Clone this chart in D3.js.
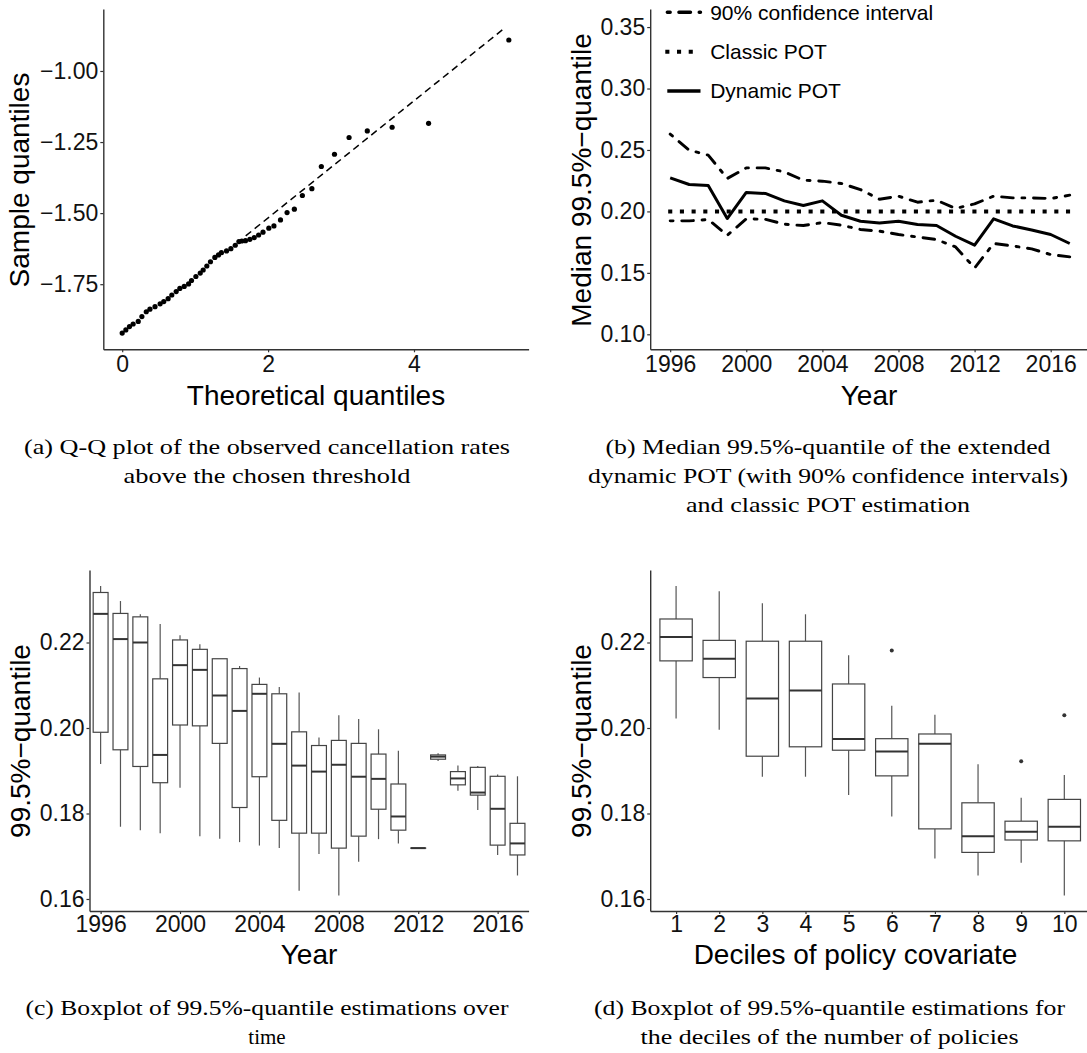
<!DOCTYPE html>
<html>
<head>
<meta charset="utf-8">
<script src="https://cdn.jsdelivr.net/npm/d3@7"></script>
<style>
  body { margin: 0; background: #fff; }
</style>
</head>
<body>
<div id="fig"></div>
<script>
// --- (a) Q-Q plot ---
var qqTheoretical = [0.00,0.05,0.10,0.15,0.22,0.27,0.33,0.38,0.45,0.52,0.57,0.63,0.68,0.74,0.79,0.85,0.91,0.95,1.01,1.07,
  1.11,1.16,1.21,1.27,1.32,1.36,1.43,1.49,1.55,1.60,1.64,1.69,1.75,1.81,1.87,1.93,2.01,2.08,2.17,2.26,
  2.36,2.47,2.60,2.73,2.91,3.11,3.36,3.70,4.20,5.30];
var qqSample = [-1.922,-1.911,-1.899,-1.890,-1.881,-1.864,-1.847,-1.838,-1.829,-1.819,-1.811,-1.801,-1.788,-1.776,-1.765,-1.758,-1.749,-1.737,-1.723,-1.711,
  -1.700,-1.686,-1.671,-1.656,-1.647,-1.639,-1.633,-1.625,-1.613,-1.600,-1.598,-1.597,-1.592,-1.586,-1.577,-1.567,-1.553,-1.545,-1.524,-1.498,
  -1.486,-1.438,-1.414,-1.336,-1.293,-1.234,-1.211,-1.198,-1.184,-0.891];
var refLineX = [1.693, 5.247];
var refLineY = [-1.580, -0.848];
var aXTicks = [0, 2, 4];
var aYTicks = [-1.75, -1.50, -1.25, -1.00];

// --- (b) median quantile over time ---
var years = [1996,1997,1998,1999,2000,2001,2002,2003,2004,2005,2006,2007,2008,2009,2010,2011,2012,2013,2014,2015,2016,2017];
var dynamicPOT = [0.2273,0.2219,0.2211,0.1942,0.2154,0.2146,0.2086,0.2048,0.2086,0.1969,0.1920,0.1906,0.1920,0.1893,0.1885,0.1798,0.1725,0.1940,0.1882,0.1849,0.1812,0.1739];
var ciUpper = [0.2629,0.2498,0.2458,0.2268,0.2354,0.2354,0.2322,0.2254,0.2246,0.2227,0.2178,0.2099,0.2124,0.2075,0.2091,0.2024,0.2061,0.2124,0.2110,0.2110,0.2105,0.2132];
var ciLower = [0.1923,0.1923,0.1934,0.1806,0.1939,0.1936,0.1896,0.1885,0.1909,0.1888,0.1853,0.1839,0.1812,0.1792,0.1771,0.1711,0.1540,0.1739,0.1719,0.1695,0.1649,0.1630];
var classicYears = [1996, 2017];
var classicPOT = [0.200, 0.200];
var yearTicks = [1996, 2000, 2004, 2008, 2012, 2016];
var bYTicks = [0.10, 0.15, 0.20, 0.25, 0.30, 0.35];
var legendLabels = ["90% confidence interval", "Classic POT", "Dynamic POT"];

// --- (c) boxplots by year ---
var yearHigh = [0.2332,0.2297,0.2266,0.2243,0.2217,0.2196,0.2162,0.2145,0.2118,0.2096,0.2083,0.1978,0.2030,0.2021,0.1997,0.1947,0.1719,0.1941,0.1912,0.1911,0.1891,0.1887];
var yearQ3 = [0.2317,0.2268,0.2260,0.2115,0.2206,0.2184,0.2162,0.2139,0.2102,0.2080,0.1991,0.1959,0.1971,0.1964,0.1939,0.1869,0.1719,0.1937,0.1898,0.1908,0.1887,0.1777];
var yearMedian = [0.2267,0.2208,0.2200,0.1937,0.2147,0.2136,0.2076,0.2040,0.2080,0.1963,0.1912,0.1898,0.1914,0.1886,0.1881,0.1793,0.1719,0.1933,0.1882,0.1849,0.1811,0.1730];
var yearQ1 = [0.1990,0.1949,0.1910,0.1872,0.2007,0.2005,0.1964,0.1814,0.1886,0.1784,0.1754,0.1754,0.1719,0.1747,0.1810,0.1761,0.1719,0.1927,0.1867,0.1843,0.1726,0.1703];
var yearLow = [0.1916,0.1769,0.1761,0.1754,0.1860,0.1747,0.1741,0.1733,0.1725,0.1719,0.1619,0.1705,0.1608,0.1687,0.1740,0.1730,0.1719,0.1923,0.1853,0.1808,0.1703,0.1655];
var boxYTicks = [0.16, 0.18, 0.20, 0.22];

// --- (d) boxplots by decile ---
var deciles = [1,2,3,4,5,6,7,8,9,10];
var decileHigh = [0.2332,0.2320,0.2292,0.2266,0.2170,0.2052,0.2031,0.1915,0.1837,0.1890];
var decileQ3 = [0.2255,0.2205,0.2203,0.2203,0.2103,0.1975,0.1986,0.1825,0.1782,0.1833];
var decileMedian = [0.2213,0.2162,0.2069,0.2088,0.1974,0.1945,0.1963,0.1747,0.1757,0.1769];
var decileQ1 = [0.2157,0.2118,0.1934,0.1956,0.1948,0.1888,0.1764,0.1709,0.1738,0.1736];
var decileLow = [0.2022,0.1996,0.1886,0.1886,0.1843,0.1793,0.1695,0.1655,0.1685,0.1608];
var outlierDecile = [6, 9, 10];
var outlierValue = [0.2181, 0.1922, 0.2030];

var SANS = "'Liberation Sans', Arial, Helvetica, sans-serif";
var SERIF = "'Liberation Serif', 'Times New Roman', serif";

var svg = d3.select("#fig").append("svg")
  .attr("width", 1087)
  .attr("height", 1053);

function minusFmt(d) {
  return (d < 0 ? "\u2212" : "") + Math.abs(d).toFixed(2);
}

function styleAxis(g) {
  g.attr("font-family", SANS).attr("font-size", 23);
  g.select(".domain").attr("stroke", "#333").attr("stroke-width", 1.4);
  g.selectAll(".tick line").attr("stroke", "#333").attr("stroke-width", 1.2);
  g.selectAll(".tick text").attr("fill", "#111");
}

function xTitle(text, cx, y) {
  svg.append("text")
    .attr("x", cx).attr("y", y)
    .attr("text-anchor", "middle")
    .attr("font-family", SANS).attr("font-size", 28)
    .text(text);
}

function yTitle(text, x, cy) {
  svg.append("text")
    .attr("transform", "translate(" + x + "," + cy + ") rotate(-90)")
    .attr("text-anchor", "middle")
    .attr("font-family", SANS).attr("font-size", 28)
    .text(text);
}

// widths measured on the reference; null = natural width
function caption(lines, widths, cx, y0) {
  lines.forEach(function(t, i) {
    var txt = svg.append("text")
      .attr("x", cx).attr("y", y0 + i * 29)
      .attr("text-anchor", "middle")
      .attr("font-family", SERIF).attr("font-size", 21)
      .text(t);
    if (widths[i]) {
      txt.attr("textLength", widths[i]).attr("lengthAdjust", "spacingAndGlyphs");
    }
  });
}

// ================= (a) =================
var ax = d3.scaleLinear().domain([-0.259, 5.571]).range([103.3, 528.6]);
var ay = d3.scaleLinear().domain([-1.979, -0.782]).range([349.3, 9]);

svg.append("g")
  .attr("transform", "translate(0,349.3)")
  .call(d3.axisBottom(ax).tickValues(aXTicks).tickFormat(d3.format("d")).tickSize(3).tickSizeOuter(0).tickPadding(3))
  .call(styleAxis);
svg.append("g")
  .attr("transform", "translate(103.3,0)")
  .call(d3.axisLeft(ay).tickValues(aYTicks).tickFormat(minusFmt).tickSize(3).tickSizeOuter(0).tickPadding(2))
  .call(styleAxis);

svg.append("line")
  .attr("x1", ax(refLineX[0])).attr("y1", ay(refLineY[0]))
  .attr("x2", ax(refLineX[1])).attr("y2", ay(refLineY[1]))
  .attr("stroke", "#000").attr("stroke-width", 1.5)
  .attr("stroke-dasharray", "7,4.5");

svg.selectAll(".qq")
  .data(qqTheoretical)
  .enter().append("circle")
  .attr("class", "qq")
  .attr("cx", function(d) { return ax(d); })
  .attr("cy", function(d, i) { return ay(qqSample[i]); })
  .attr("r", 2.6)
  .attr("fill", "#000");

xTitle("Theoretical quantiles", 316, 405);
yTitle("Sample quantiles", 28.5, 180);

// ================= (b) =================
var bx = d3.scaleLinear().domain([1994.95, 2018.05]).range([650.2, 1089.7]);
var by = d3.scaleLinear().domain([0.0878, 0.3647]).range([349.3, 9]);

svg.append("g")
  .attr("transform", "translate(0,349.3)")
  .call(d3.axisBottom(bx).tickValues(yearTicks).tickFormat(d3.format("d")).tickSize(3).tickSizeOuter(0).tickPadding(3))
  .call(styleAxis);
svg.append("g")
  .attr("transform", "translate(650.2,0)")
  .call(d3.axisLeft(by).tickValues(bYTicks).tickFormat(d3.format(".2f")).tickSize(3).tickSizeOuter(0).tickPadding(2))
  .call(styleAxis);

var dotdash = "2.9,8.7,11.6,8.7";

var bLine = d3.line()
  .x(function(d, i) { return bx(years[i]); })
  .y(function(d) { return by(d); });

[ciUpper, ciLower].forEach(function(series) {
  svg.append("path")
    .attr("d", bLine(series))
    .attr("fill", "none").attr("stroke", "#000").attr("stroke-width", 2.9)
    .attr("stroke-linecap", "round").attr("stroke-linejoin", "round")
    .attr("stroke-dasharray", dotdash);
});

svg.append("line")
  .attr("x1", bx(classicYears[0])).attr("y1", by(classicPOT[0]))
  .attr("x2", bx(classicYears[1])).attr("y2", by(classicPOT[1]))
  .attr("stroke", "#000").attr("stroke-width", 4)
  .attr("stroke-linecap", "square")
  .attr("stroke-dasharray", "0.1,11.6");

svg.append("path")
  .attr("d", bLine(dynamicPOT))
  .attr("fill", "none").attr("stroke", "#000").attr("stroke-width", 3)
  .attr("stroke-linejoin", "round");

// legend (top left inside panel b)
var legendStyles = [
  { dash: dotdash, cap: "round", w: 3.4 },
  { dash: "0.1,11.6", cap: "square", w: 4 },
  { dash: null, cap: "butt", w: 3.6 }
];
var legY = [12.3, 51.7, 91];
legendLabels.forEach(function(lab, i) {
  var s = legendStyles[i];
  svg.append("line")
    .attr("x1", 667.3).attr("x2", 700.5)
    .attr("y1", legY[i]).attr("y2", legY[i])
    .attr("stroke", "#000").attr("stroke-width", s.w)
    .attr("stroke-linecap", s.cap)
    .attr("stroke-dasharray", s.dash);
  svg.append("text")
    .attr("x", 710.2).attr("y", legY[i])
    .attr("dy", "0.35em")
    .attr("font-family", SANS).attr("font-size", 21)
    .text(lab);
});

xTitle("Year", 869, 405);
yTitle("Median 99.5%\u2212quantile", 591.4, 180);

// ================= boxplot helper =================
function drawBoxes(x, y, cats, low, q1, med, q3, high) {
  var hw = (x(cats[0] + 0.375) - x(cats[0] - 0.375)) / 2;
  var g = svg.append("g");
  cats.forEach(function(c, i) {
    var cx = x(c);
    g.append("line")
      .attr("x1", cx).attr("x2", cx)
      .attr("y1", y(high[i])).attr("y2", y(q3[i]))
      .attr("stroke", "#555").attr("stroke-width", 1.2);
    g.append("line")
      .attr("x1", cx).attr("x2", cx)
      .attr("y1", y(q1[i])).attr("y2", y(low[i]))
      .attr("stroke", "#555").attr("stroke-width", 1.2);
    g.append("rect")
      .attr("x", cx - hw).attr("width", hw * 2)
      .attr("y", y(q3[i])).attr("height", Math.max(0.01, y(q1[i]) - y(q3[i])))
      .attr("fill", "#fff").attr("stroke", "#444").attr("stroke-width", 1.2);
    g.append("line")
      .attr("x1", cx - hw).attr("x2", cx + hw)
      .attr("y1", y(med[i])).attr("y2", y(med[i]))
      .attr("stroke", "#333").attr("stroke-width", 2);
  });
}

// ================= (c) =================
var cx = d3.scaleLinear().domain([1995.44, 2017.56]).range([89.5, 528.6]);
var cy = d3.scaleLinear().domain([0.15719, 0.23696]).range([911, 570]);

svg.append("g")
  .attr("transform", "translate(0,911)")
  .call(d3.axisBottom(cx).tickValues(yearTicks).tickFormat(d3.format("d")).tickSize(3).tickSizeOuter(0).tickPadding(2))
  .call(styleAxis);
svg.append("g")
  .attr("transform", "translate(89.5,0)")
  .call(d3.axisLeft(cy).tickValues(boxYTicks).tickFormat(d3.format(".2f")).tickSize(3).tickSizeOuter(0).tickPadding(2))
  .call(styleAxis);

drawBoxes(cx, cy, years, yearLow, yearQ1, yearMedian, yearQ3, yearHigh);

xTitle("Year", 309, 964);
yTitle("99.5%\u2212quantile", 30.3, 741);

// ================= (d) =================
var dx = d3.scaleLinear().domain([0.4, 10.6]).range([650.2, 1090.2]);
var dy = d3.scaleLinear().domain([0.15719, 0.23696]).range([911, 570]);

svg.append("g")
  .attr("transform", "translate(0,911)")
  .call(d3.axisBottom(dx).tickValues(deciles).tickFormat(d3.format("d")).tickSize(3).tickSizeOuter(0).tickPadding(2))
  .call(styleAxis);
svg.append("g")
  .attr("transform", "translate(650.2,0)")
  .call(d3.axisLeft(dy).tickValues(boxYTicks).tickFormat(d3.format(".2f")).tickSize(3).tickSizeOuter(0).tickPadding(2))
  .call(styleAxis);

drawBoxes(dx, dy, deciles, decileLow, decileQ1, decileMedian, decileQ3, decileHigh);

svg.selectAll(".outlier")
  .data(outlierDecile)
  .enter().append("circle")
  .attr("class", "outlier")
  .attr("cx", function(d) { return dx(d); })
  .attr("cy", function(d, i) { return dy(outlierValue[i]); })
  .attr("r", 2)
  .attr("fill", "#333");

xTitle("Deciles of policy covariate", 855.5, 964);
yTitle("99.5%\u2212quantile", 591.4, 741);

// ================= captions =================
caption(["(a) Q-Q plot of the observed cancellation rates", "above the chosen threshold"], [486, 287], 267, 454);
caption(["(b) Median 99.5%-quantile of the extended", "dynamic POT (with 90% confidence intervals)", "and classic POT estimation"], [445, 480, 284], 828, 454);
caption(["(c) Boxplot of 99.5%-quantile estimations over", "time"], [483, null], 267, 1015);
caption(["(d) Boxplot of 99.5%-quantile estimations for", "the deciles of the number of policies"], [471, 378], 829.5, 1015);
</script>
</body>
</html>
